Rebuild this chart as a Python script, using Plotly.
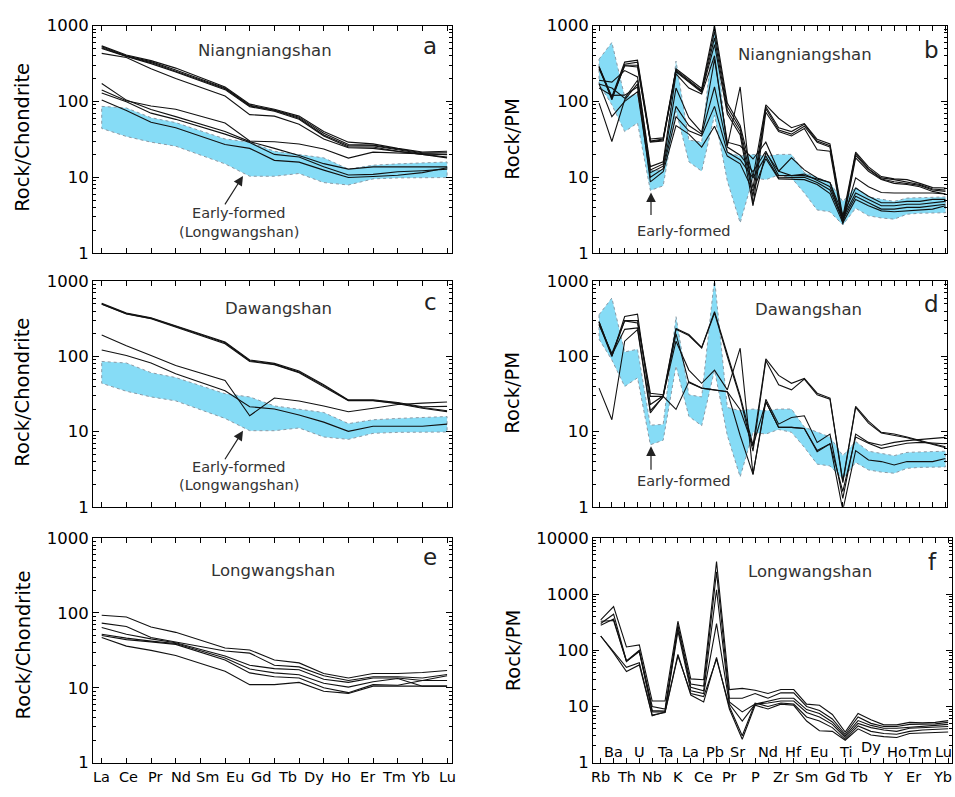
import plotly.graph_objects as go

# ---------------------------------------------------------------- categories
REE = ["La", "Ce", "Pr", "Nd", "Pm", "Sm", "Eu", "Gd", "Tb", "Dy", "Ho", "Er", "Tm", "Yb", "Lu"]
REE_NAMES = ["La", "Ce", "Pr", "Nd", "Sm", "Eu", "Gd", "Tb", "Dy", "Ho", "Er", "Tm", "Yb", "Lu"]

SPIDER = ["Rb", "Ba", "Th", "U", "Nb", "Ta", "K", "La", "Ce", "Pb", "Pr", "Sr", "P", "Nd",
          "Zr", "Hf", "Sm", "Eu", "Gd", "Ti", "Tb", "Dy", "Y", "Ho", "Er", "Tm", "Yb", "Lu"]

# ---------------------------------------------------------------- early-formed (Longwangshan) envelopes
EARLY_REE_MIN = [44, 34.5, 29, 25.7, None, 15, 10.3, 10.3, 11.2, 8.5, 7.9, 9.5, 9.8, 9.9, 9.9]
EARLY_REE_MAX = [86, 82, 61, 52.5, None, 32, 29, 22, 20, 18, 12.8, 14.4, 15, 15.5, 15.9]

EARLY_PM_MIN = [170, 90, 40, 52, 6.7, 7.7, 75, 16, 12, 66, 8.9, 2.5, 9.8, 9.3, 10.7, 9.8,
                6.2, 3.7, 3.5, 2.35, 3.9, 3.1, 2.9, 2.8, 3.25, 3.35, 3.4, 3.4]
EARLY_PM_MAX = [360, 600, 115, 125, 12.2, 12.5, 340, 31, 29, 1100, 21, 19, 20, 19, 20, 20,
                11.5, 10, 8.5, 4.8, 7.4, 5.5, 5.1, 4.8, 5.3, 5.4, 5.5, 5.5]

# ---------------------------------------------------------------- chondrite-normalised REE
NIANG_REE = [
    [540, 410, 345, 275, None, 155, 92, 79, 64, 40, 29, 27.5, 24, 21.5, 22],
    [525, 400, 335, 260, None, 150, 89, 77, 62, 38, 27, 26.5, 23.5, 21, 21],
    [510, 395, 325, 250, None, 147, 87, 76, 60, 36, 26, 26, 23, 20.5, 20],
    [500, 390, 315, 245, None, 143, 85, 74, 58, 35, 25, 25, 22, 20, 18.5],
    [430, 380, 270, 200, None, 118, 67, 64, 50, 32, 24.5, 24, 22, 20, 18],
    [141, 102, 87, 79, None, 52, 30, 29.3, 27.4, 23.6, 17.9, 21.4, 21, 20.5, 19.8],
    [172, 104, 78, 63, None, 40, 29.5, 24, 19.4, 15.1, 12.8, 13.7, 13.7, 13.7, 13.7],
    [129, 99, 70, 58, None, 37, 28.7, 20, 18.5, 13.7, 10.7, 10.9, 11.8, 12.2, 12.8],
    [104, 76, 53, 45, None, 27, 24, 16.7, 15.8, 12.4, 9.9, 10.2, 10.6, 11.5, 13.3],
]

DAWANG_REE = [
    [510, 380, 328, 255, None, 156, 90, 81, 64, 42, 26.5, 26.5, 24.5, 21.5, 21.7],
    [500, 372, 322, 250, None, 152, 88, 79, 62, 41, 26, 26, 24, 21, 19],
    [495, 368, 318, 246, None, 148, 86, 78, 61, 40, 25.8, 25.8, 23.5, 20.5, 18.5],
    [193, 139, 103, 76, None, 48, 16.3, 28, 25.6, 22, 18.4, 20.5, 23, 24, 24.8],
    [122, 103, 82, 59, None, 35, 21.5, 20, 16.7, 13.4, 10.1, 11.8, 11.8, 11.8, 12.6],
]

LONGW_REE = [
    [93, 88, 65, 55, None, 34, 32, 23.5, 21.5, 15.5, 13.5, 15.5, 15.5, 16, 17],
    [73, 66, 47, 41, None, 31, 29, 20, 19, 14.5, 12.5, 14, 14, 13.5, 15],
    [64, 52, 45, 40, None, 26.5, 20, 18, 17.4, 13, 11.8, 13.5, 13.5, 12.5, 14.5],
    [52, 46, 42, 39, None, 25, 17.8, 15.8, 14.9, 11.5, 10.2, 12, 13.3, 10.5, 10.5],
    [50, 44, 41, 38, None, 23.5, 15.8, 14, 13.5, 10, 8.6, 11, 10.8, 12.5, 12.5],
    [47, 36, 31.6, 27, None, 16.6, 11, 11, 11.8, 9, 8.4, 10.5, 10.5, 10.5, 10.5],
]

# ---------------------------------------------------------------- primitive-mantle normalised traces
NIANG_PM = [
    [290, 115, 330, 350, 32, 33, 270, 200, 148, 1000, 95, 48, 10, 90, 60, 45, 51, 31.6, 27.5, 3.0, 21.5, 13.7, 10.2, 9.5, 9.3, 8.3, 7.3, 7.2],
    [280, 110, 310, 330, 30, 32, 260, 190, 140, 840, 85, 44, 7.2, 85, 45, 40, 50, 30, 26, 2.7, 20.5, 13, 9.8, 9.3, 8.7, 8.0, 7.0, 6.8],
    [285, 105, 300, 300, 29.5, 31, 250, 185, 136, 690, 75, 40, 5.6, 80, 42, 37, 47, 29, 25, 2.6, 19.4, 12.7, 9.5, 8.7, 8.3, 7.8, 6.8, 6.5],
    [270, 112, 295, 285, 29, 30, 245, 180, 132, 560, 68, 36, 4.2, 72, 40, 35, 44, 23, 22, 2.4, 18, 12, 9.3, 8.3, 8.0, 7.5, 6.5, 6.0],
    [190, 180, 255, 210, 13.8, 16, 230, 150, 125, 400, 26, 155, 4.4, 21, 12, 10.5, 10.5, 9.5, 8.5, 2.6, 9.8, 7.5, 6.3, 6.2, 6.2, 6.3, 6.2, 6.0],
    [170, 150, 110, 190, 12.5, 15, 150, 61, 39, 360, 29, 26, 17.4, 29, 12, 18, 12.5, 9.8, 8.5, 3.2, 7.2, 5.6, 4.6, 4.6, 4.8, 4.8, 5.1, 5.1],
    [150, 120, 121, 155, 11.5, 14, 86, 48, 37, 155, 25, 19.5, 11.8, 22, 10.5, 10.5, 11, 9, 7.5, 2.9, 6.2, 5.1, 4.2, 4.2, 4.4, 4.4, 4.6, 4.8],
    [171, 63, 100, 134, 10, 13, 63, 41, 35, 86, 21.5, 17, 9.8, 19, 9.8, 10, 10, 8.5, 6.8, 2.7, 5.6, 4.6, 3.8, 3.8, 4.0, 4.0, 4.2, 4.4],
    [95, 29.6, 105, 170, 8.7, 11.8, 48, 37, 25, 47, 19, 15, 6.6, 17.6, 9.5, 9.5, 9.3, 8.0, 6.1, 2.5, 5.1, 4.2, 3.6, 3.5, 3.6, 3.7, 3.8, 4.2],
]

DAWANG_PM = [
    [290, 102, 300, 300, 32.5, 31, 235, 196, 132, 395, 108, 30, 6.6, 93, 56, 44, 51, 32.5, 28, 2.2, 21.8, 13.8, 9.8, 9.3, 8.5, 7.6, 6.9, 6.3],
    [264, 110, 298, 280, 29.5, 29.5, 230, 190, 130, 380, 100, 28, 5.5, 88, 42, 36, 50, 31, 27, 2.1, 21, 13, 9.6, 9.0, 8.3, 7.5, 6.7, 6.1],
    [270, 100, 340, 365, 23, 30, 160, 66, 44, 66, 36, 129, 2.7, 27, 12.6, 15.4, 16.3, 7.2, 9.3, 1.3, 9.3, 7.2, 6.6, 7.2, 7.6, 7.8, 8.0, 8.4],
    [290, 105, 230, 240, 19, 29, 200, 45, 38, 36, 34, 19.6, 6.4, 25, 11.4, 11.4, 11, 5.4, 6.9, 1.6, 8.5, 7.0, 6.0, 6.5, 7.0, 7.2, 7.0, 6.9],
    [38, 14.4, 160, 228, 17.8, 29.5, 19.8, 46, 38, 36, 34, 8.9, 2.7, 25, 11.4, 11.4, 11, 5.6, 6.9, 0.9, 5.6, 4.2, 4.0, 3.6, 4.0, 4.0, 4.0, 4.4],
]

LONGW_PM = [
    [350, 600, 115, 125, 12.5, 12.5, 330, 31, 30, 3800, 20, 21, 19.5, 17, 20, 20, 11, 10.5, 7.2, 3.5, 7.5, 5.8, 4.7, 4.7, 5.2, 5.1, 5.2, 5.6],
    [300, 440, 65, 100, 10, 9, 280, 25, 23, 2500, 14, 14, 17, 14, 17.5, 17.5, 10, 8.5, 6, 3.2, 6.5, 5, 4.4, 4.4, 4.8, 4.8, 4.9, 5.2],
    [330, 340, 63, 98, 8.5, 8.3, 250, 22, 19, 1200, 12, 8, 11, 12.5, 14, 14, 8.8, 7.5, 5.3, 3.0, 5.6, 4.6, 4.1, 4.1, 4.3, 4.4, 4.6, 4.8],
    [280, 360, 64, 95, 8, 8, 220, 19, 17, 300, 11, 5.5, 11, 11.5, 12.5, 12.5, 7.8, 6.5, 4.8, 2.8, 5.0, 4.2, 3.8, 3.6, 4.1, 4.2, 4.3, 4.4],
    [180, 95, 50, 60, 7, 7.8, 80, 17, 15, 70, 10, 3.0, 11.5, 10, 11.5, 11, 6.5, 5.5, 4.2, 2.6, 4.5, 3.6, 3.3, 3.2, 3.6, 3.8, 3.9, 4.0],
    [180, 90, 42, 55, 6.8, 8, 85, 16, 12, 75, 9, 2.6, 10.5, 9, 11, 10.5, 5.5, 3.7, 3.6, 2.5, 4.0, 3.1, 2.9, 2.8, 3.3, 3.4, 3.4, 3.5],
]

# ---------------------------------------------------------------- styling
FONT = "DejaVu Sans"
W, H = 955, 797
FIELD_FILL = "#86dcf6"
FIELD_EDGE = "#8a9aa6"
INK = "#111111"
TEXT = "#333333"

# small horizontal nudges (in category units) for the hand-set spider labels in panel f
F_LABEL_NUDGE = {"Pb": -0.1, "Sr": -0.35, "Gd": 0.2, "Y": 0.35, "Er": 0.3, "Tm": -0.15, "Yb": 0.55, "Lu": -0.35}


def px(x):
    return x / W


def py(y):
    return 1 - y / H


fig = go.Figure()


def envelope(lo, hi, xa, ya):
    idx = [i for i, v in enumerate(lo) if v is not None]
    xs = idx + idx[::-1] + [idx[0]]
    ys = [hi[i] for i in idx] + [lo[i] for i in idx[::-1]] + [hi[idx[0]]]
    fig.add_trace(go.Scatter(
        x=xs, y=ys, mode="lines", fill="toself", fillcolor=FIELD_FILL,
        line=dict(color=FIELD_EDGE, width=1, dash="dot"),
        xaxis=xa, yaxis=ya, hoverinfo="skip", showlegend=False))


def patterns(rows, xa, ya):
    for row in rows:
        fig.add_trace(go.Scatter(
            x=list(range(len(row))), y=row, mode="lines", connectgaps=True,
            line=dict(color=INK, width=1.1),
            xaxis=xa, yaxis=ya, hoverinfo="skip", showlegend=False))


envelope(EARLY_REE_MIN, EARLY_REE_MAX, "x", "y")
patterns(NIANG_REE, "x", "y")
envelope(EARLY_PM_MIN, EARLY_PM_MAX, "x2", "y2")
patterns(NIANG_PM, "x2", "y2")
envelope(EARLY_REE_MIN, EARLY_REE_MAX, "x3", "y3")
patterns(DAWANG_REE, "x3", "y3")
envelope(EARLY_PM_MIN, EARLY_PM_MAX, "x4", "y4")
patterns(DAWANG_PM, "x4", "y4")
patterns(LONGW_REE, "x5", "y5")
patterns(LONGW_PM, "x6", "y6")

# ---------------------------------------------------------------- axes
X_LEFT = [px(93), px(452)]
X_RIGHT = [px(593), px(947)]
X_RIGHT_F = [px(593), px(952)]
Y_TOP = [py(250), py(17)]
Y_MID = [py(510), py(279)]
Y_BOT = [py(772), py(542)]

minor3 = [m * 10 ** d for d in range(3) for m in range(2, 10)]
minor4 = [m * 10 ** d for d in range(4) for m in range(2, 10)]


def xaxis(domain, rng, anchor, n):
    return dict(domain=domain, range=rng, anchor=anchor, showgrid=False, zeroline=False,
                showline=True, linecolor="black", linewidth=1, mirror="allticks",
                ticks="inside", ticklen=5, tickcolor="black", tickwidth=1,
                tickmode="array", tickvals=list(range(n)), showticklabels=False)


def yaxis(domain, top, anchor, minor):
    vals = [10 ** k for k in range(top + 1)]
    return dict(domain=domain, type="log", range=[0, top], anchor=anchor, showgrid=False,
                zeroline=False, showline=True, linecolor="black", linewidth=1,
                mirror="allticks", ticks="inside", ticklen=6, tickcolor="black",
                tickmode="array", tickvals=vals, ticktext=[str(v) for v in vals],
                tickfont=dict(family=FONT, size=16.5, color="black"),
                minor=dict(ticks="inside", ticklen=3, tickcolor="black",
                           tickmode="array", tickvals=minor, showgrid=False))


ree_range = [-0.353, 14.2]
pm_range = [-0.47, 27.12]
pm_range_f = [-0.6, 27.3]

fig.update_layout(
    width=W, height=H, margin=dict(l=0, r=0, t=0, b=0),
    paper_bgcolor="white", plot_bgcolor="white", showlegend=False,
    font=dict(family=FONT, color="black"),
    xaxis=xaxis(X_LEFT, ree_range, "y", len(REE)),
    yaxis=yaxis(Y_TOP, 3, "x", minor3),
    xaxis2=xaxis(X_RIGHT, pm_range, "y2", len(SPIDER)),
    yaxis2=yaxis(Y_TOP, 3, "x2", minor3),
    xaxis3=xaxis(X_LEFT, ree_range, "y3", len(REE)),
    yaxis3=yaxis(Y_MID, 3, "x3", minor3),
    xaxis4=xaxis(X_RIGHT, pm_range, "y4", len(SPIDER)),
    yaxis4=yaxis(Y_MID, 3, "x4", minor3),
    xaxis5=xaxis(X_LEFT, ree_range, "y5", len(REE)),
    yaxis5=yaxis(Y_BOT, 3, "x5", minor3),
    xaxis6=xaxis(X_RIGHT_F, pm_range_f, "y6", len(SPIDER)),
    yaxis6=yaxis(Y_BOT, 4, "x6", minor4),
)

# ---------------------------------------------------------------- text
ann = []


def label(x, y, text, size, color=TEXT, angle=0):
    ann.append(dict(x=px(x), y=py(y), xref="paper", yref="paper", text=text,
                    showarrow=False, textangle=angle,
                    font=dict(family=FONT, size=size, color=color),
                    xanchor="center", yanchor="middle"))


for yc in (132, 393, 652):
    label(23, yc, "Rock/Chondrite", 19.5, "black", -90)
for yc in (133, 393, 657):
    label(513, yc, "Rock/PM", 19.5, "black", -90)

label(265, 43, "Niangniangshan", 16.5)
label(805, 47, "Niangniangshan", 16.5)
label(278, 307, "Dawangshan", 16.5)
label(808, 308, "Dawangshan", 16.5)
label(273, 575, "Longwangshan", 16.5)
label(810, 576, "Longwangshan", 16.5)

for (x, y, t) in [(430, 38, "a"), (931, 42, "b"), (430, 300, "c"),
                  (931, 302, "d"), (430, 561, "e"), (932, 566, "f")]:
    label(x, y, t, 23, "#222222")

label(239, 209, "Early-formed", 14.5)
label(239, 228, "(Longwangshan)", 14.5)
label(239, 469, "Early-formed", 14.5)
label(239, 488, "(Longwangshan)", 14.5)
label(684, 227, "Early-formed", 14.5)
label(684, 484, "Early-formed", 14.5)


def arrow(xt, yt, xs, ys):
    ann.append(dict(x=px(xt), y=py(yt), xref="paper", yref="paper", text="",
                    showarrow=True, ax=xs - xt, ay=ys - yt, arrowhead=2,
                    arrowsize=1.6, arrowwidth=1.2, arrowcolor="#222222", standoff=0))


arrow(243, 171, 224, 201)
arrow(243, 432, 224, 462)
arrow(651, 188, 651, 212)
arrow(651, 448, 651, 473)

# REE names spread evenly beneath panel e
step = (len(REE) - 1) / (len(REE_NAMES) - 1)
for k, s in enumerate(REE_NAMES):
    ann.append(dict(x=k * step, y=py(787), xref="x5", yref="paper", text=s, showarrow=False,
                    font=dict(family=FONT, size=14.5, color="black"),
                    xanchor="center", yanchor="middle"))

# spider element names in panel f: even positions under the axis, odd ones inside the frame
for i, s in enumerate(SPIDER):
    ypix = 787 if i % 2 == 0 else (756 if s == "Dy" else 761)
    ann.append(dict(x=i + F_LABEL_NUDGE.get(s, 0), y=py(ypix), xref="x6", yref="paper",
                    text=s, showarrow=False,
                    font=dict(family=FONT, size=14.5, color="black"),
                    xanchor="center", yanchor="middle"))

fig.update_layout(annotations=ann)
fig.write_html("out.html")
